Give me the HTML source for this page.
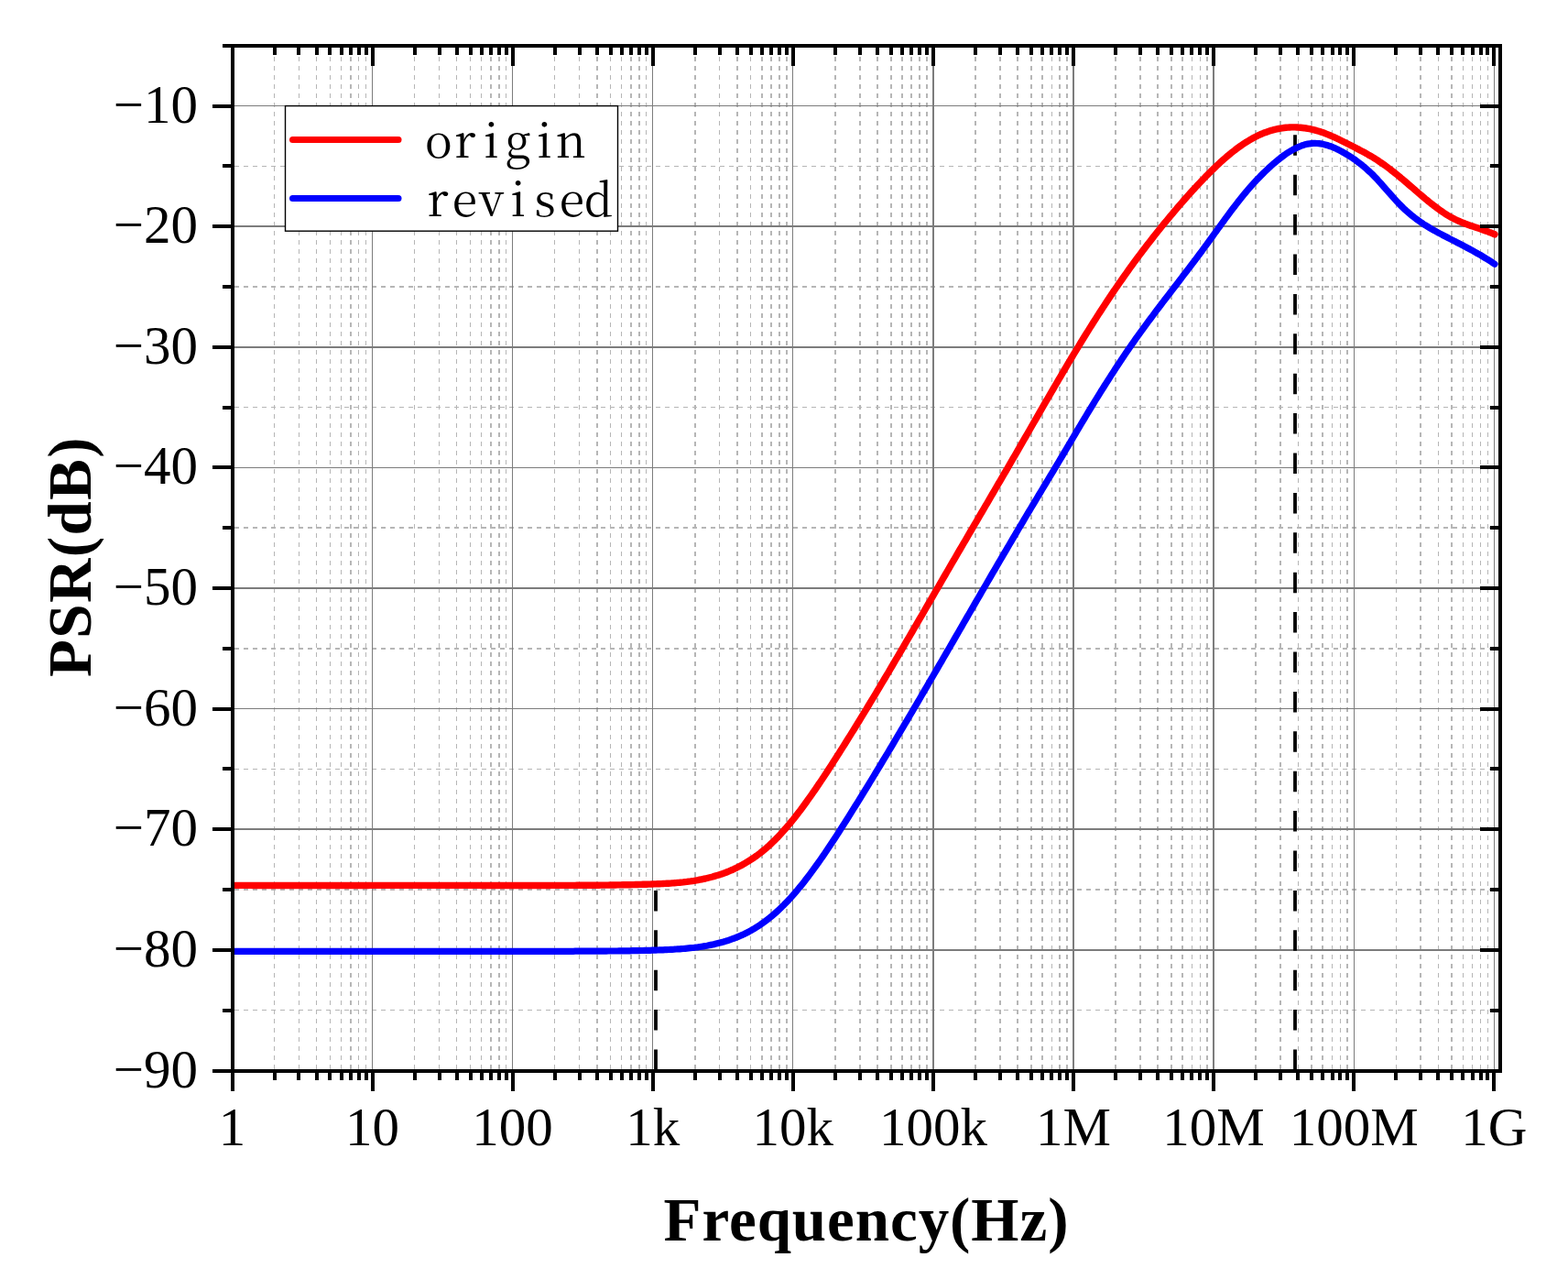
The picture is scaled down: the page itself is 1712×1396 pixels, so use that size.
<!DOCTYPE html>
<html><head><meta charset="utf-8"><style>
html,body{margin:0;padding:0;background:#fff;overflow:hidden;}
svg{display:block;}
</style></head><body>
<svg width="1712" height="1396" viewBox="0 0 1712 1396">
<rect width="1712" height="1396" fill="#fff"/>
<path d="M299.5 52V1167M326.4 52V1167M345.6 52V1167M360.4 52V1167M372.5 52V1167M382.8 52V1167M391.7 52V1167M399.5 52V1167M452.6 52V1167M479.5 52V1167M498.7 52V1167M513.5 52V1167M525.6 52V1167M535.9 52V1167M544.8 52V1167M552.6 52V1167M605.7 52V1167M632.6 52V1167M651.8 52V1167M666.6 52V1167M678.7 52V1167M689.0 52V1167M697.9 52V1167M705.7 52V1167M758.8 52V1167M785.7 52V1167M804.9 52V1167M819.7 52V1167M831.8 52V1167M842.1 52V1167M851.0 52V1167M858.8 52V1167M911.9 52V1167M938.8 52V1167M958.0 52V1167M972.8 52V1167M984.9 52V1167M995.2 52V1167M1004.1 52V1167M1011.9 52V1167M1065.0 52V1167M1091.9 52V1167M1111.1 52V1167M1125.9 52V1167M1138.0 52V1167M1148.3 52V1167M1157.2 52V1167M1165.0 52V1167M1218.1 52V1167M1245.0 52V1167M1264.2 52V1167M1279.0 52V1167M1291.1 52V1167M1301.4 52V1167M1310.3 52V1167M1318.1 52V1167M1371.2 52V1167M1398.1 52V1167M1417.3 52V1167M1432.1 52V1167M1444.2 52V1167M1454.5 52V1167M1463.4 52V1167M1471.2 52V1167M1524.3 52V1167M1551.2 52V1167M1570.4 52V1167M1585.2 52V1167M1597.3 52V1167M1607.6 52V1167M1616.5 52V1167M1624.3 52V1167M256 1102.7H1636M256 971.1H1636M256 839.4H1636M256 707.8H1636M256 576.2H1636M256 444.6H1636M256 312.9H1636M256 181.3H1636" stroke="#b6b6b6" stroke-width="1.5" stroke-dasharray="5 5" fill="none" shape-rendering="crispEdges"/>
<path d="M406.5 52V1167M559.6 52V1167M712.7 52V1167M865.8 52V1167M1018.9 52V1167M1172.0 52V1167M1325.1 52V1167M1478.2 52V1167M1631.3 52V1167" stroke="#7c7c7c" stroke-width="1.3" fill="none" shape-rendering="crispEdges"/>
<path d="M256 1036.9H1636M256 905.2H1636M256 773.6H1636M256 642.0H1636M256 510.4H1636M256 378.8H1636M256 247.1H1636M256 115.5H1636" stroke="#7c7c7c" stroke-width="1.45" fill="none" shape-rendering="crispEdges"/>
<path d="M716 1168V966M1414 1168V140" stroke="#000" stroke-width="3.8" stroke-dasharray="22.5 20.9" fill="none"/>
<defs><clipPath id="pc"><rect x="254" y="40" width="1390" height="1140"/></clipPath></defs>
<g clip-path="url(#pc)">
<path d="M254.0 966.4 L256.0 966.4 L258.0 966.4 L260.0 966.4 L262.0 966.4 L264.0 966.4 L266.0 966.4 L268.0 966.4 L270.0 966.4 L272.0 966.4 L274.0 966.4 L276.0 966.5 L278.0 966.5 L280.0 966.5 L282.0 966.5 L284.0 966.5 L286.0 966.5 L288.0 966.5 L290.0 966.5 L292.0 966.5 L294.0 966.5 L296.0 966.5 L298.0 966.5 L300.0 966.5 L302.0 966.5 L304.0 966.5 L306.0 966.5 L308.0 966.5 L310.0 966.5 L312.0 966.5 L314.0 966.5 L316.0 966.5 L318.0 966.5 L320.0 966.5 L322.0 966.5 L324.0 966.5 L326.0 966.5 L328.0 966.5 L330.0 966.5 L332.0 966.5 L334.0 966.5 L336.0 966.5 L338.0 966.5 L340.0 966.5 L342.0 966.5 L344.0 966.5 L346.0 966.5 L348.0 966.5 L350.0 966.5 L352.0 966.5 L354.0 966.5 L356.0 966.5 L358.0 966.5 L360.0 966.5 L362.0 966.5 L364.0 966.5 L366.0 966.5 L368.0 966.5 L370.0 966.5 L372.0 966.5 L374.0 966.5 L376.0 966.5 L378.0 966.5 L380.0 966.5 L382.0 966.5 L384.0 966.5 L386.0 966.5 L388.0 966.5 L390.0 966.5 L392.0 966.5 L394.0 966.5 L396.0 966.5 L398.0 966.5 L400.0 966.5 L402.0 966.5 L404.0 966.4 L406.0 966.4 L408.0 966.4 L410.0 966.4 L412.0 966.4 L414.0 966.4 L416.0 966.4 L418.0 966.4 L420.0 966.4 L422.0 966.4 L424.0 966.4 L426.0 966.4 L428.0 966.4 L430.0 966.4 L432.0 966.4 L434.0 966.4 L436.0 966.4 L438.0 966.4 L440.0 966.4 L442.0 966.4 L444.0 966.4 L446.0 966.4 L448.0 966.4 L450.0 966.4 L452.0 966.4 L454.0 966.4 L456.0 966.4 L458.0 966.4 L460.0 966.4 L462.0 966.4 L464.0 966.4 L466.0 966.4 L468.0 966.4 L470.0 966.4 L472.0 966.4 L474.0 966.4 L476.0 966.4 L478.0 966.4 L480.0 966.4 L482.0 966.4 L484.0 966.4 L486.0 966.4 L488.0 966.4 L490.0 966.4 L492.0 966.4 L494.0 966.4 L496.0 966.4 L498.0 966.4 L500.0 966.4 L502.0 966.4 L504.0 966.4 L506.0 966.4 L508.0 966.4 L510.0 966.4 L512.0 966.4 L514.0 966.4 L516.0 966.4 L518.0 966.4 L520.0 966.4 L522.0 966.4 L524.0 966.4 L526.0 966.5 L528.0 966.5 L530.0 966.5 L532.0 966.5 L534.0 966.5 L536.0 966.5 L538.0 966.5 L540.0 966.5 L542.0 966.5 L544.0 966.5 L546.0 966.5 L548.0 966.5 L550.0 966.5 L552.0 966.5 L554.0 966.5 L556.0 966.5 L558.0 966.5 L560.0 966.5 L562.0 966.5 L564.0 966.5 L566.0 966.5 L568.0 966.5 L570.0 966.5 L572.0 966.5 L574.0 966.5 L576.0 966.5 L578.0 966.5 L580.0 966.5 L582.0 966.5 L584.0 966.5 L586.0 966.5 L588.0 966.5 L590.0 966.5 L592.0 966.5 L594.0 966.5 L596.0 966.5 L598.0 966.5 L600.0 966.5 L602.0 966.4 L604.0 966.4 L606.0 966.4 L608.0 966.4 L610.0 966.4 L612.0 966.4 L614.0 966.4 L616.0 966.4 L618.0 966.4 L620.0 966.4 L622.0 966.4 L624.0 966.4 L626.0 966.4 L628.0 966.4 L630.0 966.3 L632.0 966.3 L634.0 966.3 L636.0 966.3 L638.0 966.3 L640.0 966.3 L642.0 966.3 L644.0 966.2 L646.0 966.2 L648.0 966.2 L650.0 966.2 L652.0 966.2 L654.0 966.2 L656.0 966.1 L658.0 966.1 L660.0 966.1 L662.0 966.1 L664.0 966.1 L666.0 966.0 L668.0 966.0 L670.0 966.0 L672.0 966.0 L674.0 965.9 L676.0 965.9 L678.0 965.9 L680.0 965.8 L682.0 965.8 L684.0 965.8 L686.0 965.7 L688.0 965.7 L690.0 965.6 L692.0 965.6 L694.0 965.5 L696.0 965.5 L698.0 965.4 L700.0 965.4 L702.0 965.3 L704.0 965.3 L706.0 965.2 L708.0 965.1 L710.0 965.1 L712.0 965.0 L714.0 964.9 L716.0 964.9 L718.0 964.8 L720.0 964.7 L722.0 964.6 L724.0 964.5 L726.0 964.4 L728.0 964.3 L730.0 964.2 L732.0 964.1 L734.0 963.9 L736.0 963.8 L738.0 963.6 L740.0 963.4 L742.0 963.3 L744.0 963.1 L746.0 962.9 L748.0 962.6 L750.0 962.4 L752.0 962.1 L754.0 961.9 L756.0 961.6 L758.0 961.3 L760.0 960.9 L762.0 960.6 L764.0 960.2 L766.0 959.8 L768.0 959.4 L770.0 959.0 L772.0 958.5 L774.0 958.0 L776.0 957.5 L778.0 957.0 L780.0 956.4 L782.0 955.8 L784.0 955.2 L786.0 954.6 L788.0 953.9 L790.0 953.2 L792.0 952.5 L794.0 951.7 L796.0 950.9 L798.0 950.0 L800.0 949.2 L802.0 948.2 L804.0 947.3 L806.0 946.3 L808.0 945.3 L810.0 944.2 L812.0 943.1 L814.0 941.9 L816.0 940.7 L818.0 939.5 L820.0 938.2 L822.0 936.9 L824.0 935.5 L826.0 934.1 L828.0 932.6 L830.0 931.1 L832.0 929.5 L834.0 927.9 L836.0 926.2 L838.0 924.4 L840.0 922.7 L842.0 920.8 L844.0 918.9 L846.0 917.0 L848.0 914.9 L850.0 912.9 L852.0 910.8 L854.0 908.6 L856.0 906.3 L858.0 904.1 L860.0 901.7 L862.0 899.4 L864.0 896.9 L866.0 894.5 L868.0 891.9 L870.0 889.4 L872.0 886.8 L874.0 884.2 L876.0 881.5 L878.0 878.8 L880.0 876.0 L882.0 873.2 L884.0 870.4 L886.0 867.6 L888.0 864.7 L890.0 861.8 L892.0 858.9 L894.0 855.9 L896.0 853.0 L898.0 850.0 L900.0 847.0 L902.0 843.9 L904.0 840.9 L906.0 837.8 L908.0 834.7 L910.0 831.6 L912.0 828.5 L914.0 825.3 L916.0 822.2 L918.0 819.1 L920.0 815.9 L922.0 812.7 L924.0 809.5 L926.0 806.3 L928.0 803.1 L930.0 799.9 L932.0 796.7 L934.0 793.5 L936.0 790.2 L938.0 787.0 L940.0 783.7 L942.0 780.4 L944.0 777.1 L946.0 773.8 L948.0 770.5 L950.0 767.2 L952.0 763.9 L954.0 760.6 L956.0 757.3 L958.0 753.9 L960.0 750.6 L962.0 747.2 L964.0 743.9 L966.0 740.5 L968.0 737.1 L970.0 733.8 L972.0 730.4 L974.0 727.0 L976.0 723.6 L978.0 720.2 L980.0 716.8 L982.0 713.4 L984.0 710.0 L986.0 706.6 L988.0 703.2 L990.0 699.7 L992.0 696.3 L994.0 692.9 L996.0 689.5 L998.0 686.0 L1000.0 682.6 L1002.0 679.2 L1004.0 675.7 L1006.0 672.3 L1008.0 668.8 L1010.0 665.4 L1012.0 661.9 L1014.0 658.5 L1016.0 655.1 L1018.0 651.6 L1020.0 648.2 L1022.0 644.7 L1024.0 641.3 L1026.0 637.8 L1028.0 634.4 L1030.0 630.9 L1032.0 627.5 L1034.0 624.0 L1036.0 620.6 L1038.0 617.2 L1040.0 613.7 L1042.0 610.3 L1044.0 606.9 L1046.0 603.4 L1048.0 600.0 L1050.0 596.6 L1052.0 593.2 L1054.0 589.8 L1056.0 586.3 L1058.0 582.9 L1060.0 579.5 L1062.0 576.1 L1064.0 572.7 L1066.0 569.3 L1068.0 565.8 L1070.0 562.4 L1072.0 559.0 L1074.0 555.6 L1076.0 552.2 L1078.0 548.8 L1080.0 545.3 L1082.0 541.9 L1084.0 538.5 L1086.0 535.1 L1088.0 531.7 L1090.0 528.2 L1092.0 524.8 L1094.0 521.4 L1096.0 517.9 L1098.0 514.5 L1100.0 511.1 L1102.0 507.6 L1104.0 504.2 L1106.0 500.7 L1108.0 497.3 L1110.0 493.8 L1112.0 490.3 L1114.0 486.9 L1116.0 483.4 L1118.0 479.9 L1120.0 476.5 L1122.0 473.0 L1124.0 469.5 L1126.0 466.0 L1128.0 462.5 L1130.0 459.1 L1132.0 455.6 L1134.0 452.1 L1136.0 448.6 L1138.0 445.2 L1140.0 441.7 L1142.0 438.2 L1144.0 434.8 L1146.0 431.3 L1148.0 427.9 L1150.0 424.5 L1152.0 421.0 L1154.0 417.6 L1156.0 414.2 L1158.0 410.8 L1160.0 407.4 L1162.0 404.0 L1164.0 400.6 L1166.0 397.2 L1168.0 393.9 L1170.0 390.5 L1172.0 387.2 L1174.0 383.9 L1176.0 380.6 L1178.0 377.3 L1180.0 374.0 L1182.0 370.8 L1184.0 367.5 L1186.0 364.3 L1188.0 361.1 L1190.0 357.9 L1192.0 354.7 L1194.0 351.5 L1196.0 348.4 L1198.0 345.3 L1200.0 342.1 L1202.0 339.1 L1204.0 336.0 L1206.0 332.9 L1208.0 329.9 L1210.0 326.9 L1212.0 323.9 L1214.0 320.9 L1216.0 317.9 L1218.0 315.0 L1220.0 312.1 L1222.0 309.2 L1224.0 306.3 L1226.0 303.5 L1228.0 300.6 L1230.0 297.8 L1232.0 295.0 L1234.0 292.2 L1236.0 289.5 L1238.0 286.7 L1240.0 284.0 L1242.0 281.3 L1244.0 278.6 L1246.0 276.0 L1248.0 273.3 L1250.0 270.7 L1252.0 268.1 L1254.0 265.5 L1256.0 262.9 L1258.0 260.4 L1260.0 257.8 L1262.0 255.3 L1264.0 252.8 L1266.0 250.3 L1268.0 247.8 L1270.0 245.3 L1272.0 242.9 L1274.0 240.5 L1276.0 238.1 L1278.0 235.7 L1280.0 233.3 L1282.0 230.9 L1284.0 228.6 L1286.0 226.2 L1288.0 223.9 L1290.0 221.6 L1292.0 219.3 L1294.0 217.0 L1296.0 214.8 L1298.0 212.6 L1300.0 210.3 L1302.0 208.1 L1304.0 205.9 L1306.0 203.8 L1308.0 201.6 L1310.0 199.5 L1312.0 197.4 L1314.0 195.3 L1316.0 193.2 L1318.0 191.2 L1320.0 189.1 L1322.0 187.2 L1324.0 185.2 L1326.0 183.3 L1328.0 181.3 L1330.0 179.5 L1332.0 177.6 L1334.0 175.8 L1336.0 174.0 L1338.0 172.3 L1340.0 170.5 L1342.0 168.9 L1344.0 167.2 L1346.0 165.6 L1348.0 164.1 L1350.0 162.5 L1352.0 161.0 L1354.0 159.6 L1356.0 158.2 L1358.0 156.8 L1360.0 155.5 L1362.0 154.3 L1364.0 153.1 L1366.0 151.9 L1368.0 150.8 L1370.0 149.7 L1372.0 148.7 L1374.0 147.7 L1376.0 146.8 L1378.0 146.0 L1380.0 145.1 L1382.0 144.4 L1384.0 143.7 L1386.0 143.0 L1388.0 142.4 L1390.0 141.9 L1392.0 141.3 L1394.0 140.9 L1396.0 140.5 L1398.0 140.1 L1400.0 139.8 L1402.0 139.5 L1404.0 139.3 L1406.0 139.1 L1408.0 139.0 L1410.0 138.9 L1412.0 138.9 L1414.0 138.9 L1416.0 139.0 L1418.0 139.1 L1420.0 139.3 L1422.0 139.5 L1424.0 139.7 L1426.0 140.0 L1428.0 140.3 L1430.0 140.7 L1432.0 141.2 L1434.0 141.6 L1436.0 142.1 L1438.0 142.7 L1440.0 143.3 L1442.0 143.9 L1444.0 144.6 L1446.0 145.3 L1448.0 146.1 L1450.0 146.9 L1452.0 147.7 L1454.0 148.6 L1456.0 149.4 L1458.0 150.3 L1460.0 151.3 L1462.0 152.2 L1464.0 153.2 L1466.0 154.2 L1468.0 155.2 L1470.0 156.2 L1472.0 157.2 L1474.0 158.2 L1476.0 159.3 L1478.0 160.3 L1480.0 161.3 L1482.0 162.4 L1484.0 163.4 L1486.0 164.5 L1488.0 165.5 L1490.0 166.6 L1492.0 167.7 L1494.0 168.9 L1496.0 170.0 L1498.0 171.2 L1500.0 172.4 L1502.0 173.7 L1504.0 174.9 L1506.0 176.3 L1508.0 177.6 L1510.0 179.0 L1512.0 180.4 L1514.0 181.9 L1516.0 183.4 L1518.0 184.9 L1520.0 186.5 L1522.0 188.0 L1524.0 189.6 L1526.0 191.2 L1528.0 192.9 L1530.0 194.6 L1532.0 196.2 L1534.0 197.9 L1536.0 199.6 L1538.0 201.4 L1540.0 203.1 L1542.0 204.8 L1544.0 206.5 L1546.0 208.3 L1548.0 210.0 L1550.0 211.7 L1552.0 213.4 L1554.0 215.1 L1556.0 216.8 L1558.0 218.4 L1560.0 220.1 L1562.0 221.7 L1564.0 223.2 L1566.0 224.8 L1568.0 226.3 L1570.0 227.8 L1572.0 229.2 L1574.0 230.6 L1576.0 232.0 L1578.0 233.3 L1580.0 234.6 L1582.0 235.8 L1584.0 236.9 L1586.0 238.0 L1588.0 239.1 L1590.0 240.0 L1592.0 241.0 L1594.0 241.8 L1596.0 242.7 L1598.0 243.5 L1600.0 244.3 L1602.0 245.0 L1604.0 245.7 L1606.0 246.4 L1608.0 247.1 L1610.0 247.8 L1612.0 248.4 L1614.0 249.1 L1616.0 249.8 L1618.0 250.5 L1620.0 251.2 L1622.0 251.9 L1624.0 252.6 L1626.0 253.4 L1628.0 254.1 L1630.0 255.0 L1632.0 255.8" stroke="#ff0000" stroke-width="7.4" fill="none" stroke-linejoin="round" stroke-linecap="round"/>
<path d="M254.0 1038.3 L256.0 1038.3 L258.0 1038.3 L260.0 1038.3 L262.0 1038.3 L264.0 1038.3 L266.0 1038.3 L268.0 1038.3 L270.0 1038.3 L272.0 1038.3 L274.0 1038.3 L276.0 1038.3 L278.0 1038.3 L280.0 1038.3 L282.0 1038.3 L284.0 1038.3 L286.0 1038.3 L288.0 1038.3 L290.0 1038.3 L292.0 1038.3 L294.0 1038.3 L296.0 1038.3 L298.0 1038.3 L300.0 1038.3 L302.0 1038.3 L304.0 1038.3 L306.0 1038.3 L308.0 1038.3 L310.0 1038.3 L312.0 1038.3 L314.0 1038.3 L316.0 1038.3 L318.0 1038.3 L320.0 1038.3 L322.0 1038.3 L324.0 1038.3 L326.0 1038.3 L328.0 1038.3 L330.0 1038.3 L332.0 1038.3 L334.0 1038.3 L336.0 1038.3 L338.0 1038.3 L340.0 1038.3 L342.0 1038.3 L344.0 1038.3 L346.0 1038.3 L348.0 1038.3 L350.0 1038.3 L352.0 1038.3 L354.0 1038.3 L356.0 1038.3 L358.0 1038.3 L360.0 1038.3 L362.0 1038.3 L364.0 1038.3 L366.0 1038.3 L368.0 1038.3 L370.0 1038.3 L372.0 1038.3 L374.0 1038.3 L376.0 1038.3 L378.0 1038.3 L380.0 1038.3 L382.0 1038.3 L384.0 1038.3 L386.0 1038.3 L388.0 1038.3 L390.0 1038.3 L392.0 1038.3 L394.0 1038.3 L396.0 1038.3 L398.0 1038.3 L400.0 1038.3 L402.0 1038.3 L404.0 1038.3 L406.0 1038.3 L408.0 1038.3 L410.0 1038.3 L412.0 1038.3 L414.0 1038.3 L416.0 1038.3 L418.0 1038.3 L420.0 1038.3 L422.0 1038.3 L424.0 1038.3 L426.0 1038.3 L428.0 1038.3 L430.0 1038.3 L432.0 1038.3 L434.0 1038.3 L436.0 1038.3 L438.0 1038.3 L440.0 1038.3 L442.0 1038.3 L444.0 1038.3 L446.0 1038.3 L448.0 1038.3 L450.0 1038.3 L452.0 1038.3 L454.0 1038.3 L456.0 1038.3 L458.0 1038.3 L460.0 1038.3 L462.0 1038.3 L464.0 1038.3 L466.0 1038.3 L468.0 1038.3 L470.0 1038.3 L472.0 1038.3 L474.0 1038.3 L476.0 1038.3 L478.0 1038.3 L480.0 1038.3 L482.0 1038.3 L484.0 1038.3 L486.0 1038.3 L488.0 1038.3 L490.0 1038.3 L492.0 1038.3 L494.0 1038.3 L496.0 1038.3 L498.0 1038.3 L500.0 1038.3 L502.0 1038.3 L504.0 1038.3 L506.0 1038.3 L508.0 1038.3 L510.0 1038.3 L512.0 1038.3 L514.0 1038.3 L516.0 1038.3 L518.0 1038.3 L520.0 1038.3 L522.0 1038.3 L524.0 1038.3 L526.0 1038.3 L528.0 1038.3 L530.0 1038.3 L532.0 1038.3 L534.0 1038.3 L536.0 1038.3 L538.0 1038.3 L540.0 1038.3 L542.0 1038.3 L544.0 1038.3 L546.0 1038.3 L548.0 1038.3 L550.0 1038.3 L552.0 1038.3 L554.0 1038.3 L556.0 1038.3 L558.0 1038.3 L560.0 1038.3 L562.0 1038.3 L564.0 1038.3 L566.0 1038.3 L568.0 1038.3 L570.0 1038.3 L572.0 1038.3 L574.0 1038.3 L576.0 1038.3 L578.0 1038.3 L580.0 1038.3 L582.0 1038.3 L584.0 1038.3 L586.0 1038.3 L588.0 1038.3 L590.0 1038.3 L592.0 1038.3 L594.0 1038.3 L596.0 1038.3 L598.0 1038.3 L600.0 1038.3 L602.0 1038.3 L604.0 1038.3 L606.0 1038.3 L608.0 1038.3 L610.0 1038.3 L612.0 1038.3 L614.0 1038.3 L616.0 1038.3 L618.0 1038.3 L620.0 1038.3 L622.0 1038.3 L624.0 1038.3 L626.0 1038.3 L628.0 1038.2 L630.0 1038.2 L632.0 1038.2 L634.0 1038.2 L636.0 1038.2 L638.0 1038.2 L640.0 1038.2 L642.0 1038.2 L644.0 1038.2 L646.0 1038.2 L648.0 1038.1 L650.0 1038.1 L652.0 1038.1 L654.0 1038.1 L656.0 1038.1 L658.0 1038.1 L660.0 1038.1 L662.0 1038.1 L664.0 1038.0 L666.0 1038.0 L668.0 1038.0 L670.0 1038.0 L672.0 1038.0 L674.0 1038.0 L676.0 1037.9 L678.0 1037.9 L680.0 1037.9 L682.0 1037.9 L684.0 1037.8 L686.0 1037.8 L688.0 1037.8 L690.0 1037.7 L692.0 1037.7 L694.0 1037.7 L696.0 1037.6 L698.0 1037.6 L700.0 1037.5 L702.0 1037.5 L704.0 1037.4 L706.0 1037.4 L708.0 1037.3 L710.0 1037.3 L712.0 1037.2 L714.0 1037.1 L716.0 1037.1 L718.0 1037.0 L720.0 1036.9 L722.0 1036.8 L724.0 1036.8 L726.0 1036.7 L728.0 1036.6 L730.0 1036.5 L732.0 1036.4 L734.0 1036.3 L736.0 1036.2 L738.0 1036.0 L740.0 1035.9 L742.0 1035.8 L744.0 1035.6 L746.0 1035.5 L748.0 1035.3 L750.0 1035.1 L752.0 1034.9 L754.0 1034.7 L756.0 1034.5 L758.0 1034.3 L760.0 1034.0 L762.0 1033.8 L764.0 1033.5 L766.0 1033.2 L768.0 1032.9 L770.0 1032.5 L772.0 1032.2 L774.0 1031.8 L776.0 1031.4 L778.0 1031.0 L780.0 1030.6 L782.0 1030.1 L784.0 1029.6 L786.0 1029.1 L788.0 1028.5 L790.0 1028.0 L792.0 1027.4 L794.0 1026.8 L796.0 1026.1 L798.0 1025.4 L800.0 1024.7 L802.0 1024.0 L804.0 1023.2 L806.0 1022.4 L808.0 1021.5 L810.0 1020.6 L812.0 1019.7 L814.0 1018.7 L816.0 1017.7 L818.0 1016.7 L820.0 1015.6 L822.0 1014.4 L824.0 1013.3 L826.0 1012.0 L828.0 1010.7 L830.0 1009.4 L832.0 1008.0 L834.0 1006.6 L836.0 1005.1 L838.0 1003.6 L840.0 1002.0 L842.0 1000.4 L844.0 998.7 L846.0 997.0 L848.0 995.2 L850.0 993.4 L852.0 991.5 L854.0 989.5 L856.0 987.6 L858.0 985.5 L860.0 983.4 L862.0 981.3 L864.0 979.1 L866.0 976.9 L868.0 974.6 L870.0 972.2 L872.0 969.8 L874.0 967.4 L876.0 964.9 L878.0 962.4 L880.0 959.8 L882.0 957.2 L884.0 954.6 L886.0 951.9 L888.0 949.2 L890.0 946.4 L892.0 943.6 L894.0 940.8 L896.0 938.0 L898.0 935.1 L900.0 932.2 L902.0 929.3 L904.0 926.3 L906.0 923.3 L908.0 920.3 L910.0 917.2 L912.0 914.2 L914.0 911.1 L916.0 908.0 L918.0 904.9 L920.0 901.8 L922.0 898.6 L924.0 895.5 L926.0 892.3 L928.0 889.1 L930.0 885.9 L932.0 882.7 L934.0 879.5 L936.0 876.3 L938.0 873.1 L940.0 869.8 L942.0 866.6 L944.0 863.3 L946.0 860.1 L948.0 856.8 L950.0 853.5 L952.0 850.3 L954.0 847.0 L956.0 843.7 L958.0 840.4 L960.0 837.1 L962.0 833.8 L964.0 830.4 L966.0 827.1 L968.0 823.8 L970.0 820.5 L972.0 817.1 L974.0 813.8 L976.0 810.4 L978.0 807.0 L980.0 803.7 L982.0 800.3 L984.0 796.9 L986.0 793.6 L988.0 790.2 L990.0 786.8 L992.0 783.4 L994.0 780.0 L996.0 776.6 L998.0 773.2 L1000.0 769.8 L1002.0 766.4 L1004.0 763.0 L1006.0 759.5 L1008.0 756.1 L1010.0 752.7 L1012.0 749.3 L1014.0 745.8 L1016.0 742.4 L1018.0 739.0 L1020.0 735.5 L1022.0 732.1 L1024.0 728.6 L1026.0 725.2 L1028.0 721.8 L1030.0 718.3 L1032.0 714.9 L1034.0 711.4 L1036.0 708.0 L1038.0 704.5 L1040.0 701.1 L1042.0 697.6 L1044.0 694.2 L1046.0 690.7 L1048.0 687.2 L1050.0 683.8 L1052.0 680.3 L1054.0 676.9 L1056.0 673.4 L1058.0 670.0 L1060.0 666.5 L1062.0 663.1 L1064.0 659.6 L1066.0 656.2 L1068.0 652.7 L1070.0 649.3 L1072.0 645.8 L1074.0 642.4 L1076.0 639.0 L1078.0 635.5 L1080.0 632.1 L1082.0 628.6 L1084.0 625.2 L1086.0 621.8 L1088.0 618.4 L1090.0 614.9 L1092.0 611.5 L1094.0 608.1 L1096.0 604.7 L1098.0 601.3 L1100.0 597.9 L1102.0 594.5 L1104.0 591.1 L1106.0 587.7 L1108.0 584.3 L1110.0 580.9 L1112.0 577.5 L1114.0 574.1 L1116.0 570.8 L1118.0 567.4 L1120.0 564.0 L1122.0 560.7 L1124.0 557.3 L1126.0 554.0 L1128.0 550.6 L1130.0 547.3 L1132.0 544.0 L1134.0 540.6 L1136.0 537.3 L1138.0 534.0 L1140.0 530.7 L1142.0 527.4 L1144.0 524.0 L1146.0 520.7 L1148.0 517.4 L1150.0 514.1 L1152.0 510.7 L1154.0 507.4 L1156.0 504.0 L1158.0 500.6 L1160.0 497.3 L1162.0 493.9 L1164.0 490.5 L1166.0 487.1 L1168.0 483.8 L1170.0 480.4 L1172.0 477.0 L1174.0 473.6 L1176.0 470.2 L1178.0 466.9 L1180.0 463.5 L1182.0 460.2 L1184.0 456.8 L1186.0 453.5 L1188.0 450.2 L1190.0 446.9 L1192.0 443.6 L1194.0 440.3 L1196.0 437.0 L1198.0 433.8 L1200.0 430.6 L1202.0 427.3 L1204.0 424.2 L1206.0 421.0 L1208.0 417.8 L1210.0 414.7 L1212.0 411.6 L1214.0 408.4 L1216.0 405.4 L1218.0 402.3 L1220.0 399.2 L1222.0 396.2 L1224.0 393.2 L1226.0 390.2 L1228.0 387.3 L1230.0 384.3 L1232.0 381.4 L1234.0 378.5 L1236.0 375.6 L1238.0 372.8 L1240.0 369.9 L1242.0 367.1 L1244.0 364.3 L1246.0 361.6 L1248.0 358.8 L1250.0 356.1 L1252.0 353.4 L1254.0 350.7 L1256.0 348.0 L1258.0 345.3 L1260.0 342.6 L1262.0 339.9 L1264.0 337.3 L1266.0 334.7 L1268.0 332.0 L1270.0 329.4 L1272.0 326.8 L1274.0 324.2 L1276.0 321.6 L1278.0 319.0 L1280.0 316.4 L1282.0 313.8 L1284.0 311.2 L1286.0 308.6 L1288.0 306.0 L1290.0 303.4 L1292.0 300.7 L1294.0 298.1 L1296.0 295.5 L1298.0 292.9 L1300.0 290.3 L1302.0 287.6 L1304.0 285.0 L1306.0 282.3 L1308.0 279.6 L1310.0 277.0 L1312.0 274.3 L1314.0 271.5 L1316.0 268.8 L1318.0 266.1 L1320.0 263.3 L1322.0 260.6 L1324.0 257.8 L1326.0 255.0 L1328.0 252.3 L1330.0 249.5 L1332.0 246.8 L1334.0 244.0 L1336.0 241.3 L1338.0 238.5 L1340.0 235.8 L1342.0 233.1 L1344.0 230.4 L1346.0 227.8 L1348.0 225.2 L1350.0 222.6 L1352.0 220.0 L1354.0 217.5 L1356.0 215.0 L1358.0 212.5 L1360.0 210.1 L1362.0 207.7 L1364.0 205.4 L1366.0 203.1 L1368.0 200.9 L1370.0 198.7 L1372.0 196.6 L1374.0 194.5 L1376.0 192.4 L1378.0 190.4 L1380.0 188.4 L1382.0 186.5 L1384.0 184.6 L1386.0 182.7 L1388.0 180.9 L1390.0 179.1 L1392.0 177.4 L1394.0 175.7 L1396.0 174.1 L1398.0 172.5 L1400.0 171.0 L1402.0 169.5 L1404.0 168.1 L1406.0 166.8 L1408.0 165.5 L1410.0 164.3 L1412.0 163.2 L1414.0 162.1 L1416.0 161.2 L1418.0 160.3 L1420.0 159.5 L1422.0 158.7 L1424.0 158.1 L1426.0 157.6 L1428.0 157.1 L1430.0 156.8 L1432.0 156.6 L1434.0 156.4 L1436.0 156.4 L1438.0 156.5 L1440.0 156.6 L1442.0 156.9 L1444.0 157.3 L1446.0 157.7 L1448.0 158.2 L1450.0 158.8 L1452.0 159.5 L1454.0 160.2 L1456.0 161.0 L1458.0 161.9 L1460.0 162.9 L1462.0 163.8 L1464.0 164.9 L1466.0 166.0 L1468.0 167.1 L1470.0 168.3 L1472.0 169.5 L1474.0 170.8 L1476.0 172.1 L1478.0 173.4 L1480.0 174.8 L1482.0 176.3 L1484.0 177.8 L1486.0 179.3 L1488.0 181.0 L1490.0 182.6 L1492.0 184.4 L1494.0 186.2 L1496.0 188.0 L1498.0 189.9 L1500.0 191.9 L1502.0 194.0 L1504.0 196.1 L1506.0 198.3 L1508.0 200.5 L1510.0 202.8 L1512.0 205.1 L1514.0 207.3 L1516.0 209.6 L1518.0 211.9 L1520.0 214.2 L1522.0 216.4 L1524.0 218.6 L1526.0 220.8 L1528.0 222.9 L1530.0 224.9 L1532.0 226.9 L1534.0 228.8 L1536.0 230.6 L1538.0 232.3 L1540.0 234.0 L1542.0 235.7 L1544.0 237.2 L1546.0 238.8 L1548.0 240.2 L1550.0 241.7 L1552.0 243.0 L1554.0 244.4 L1556.0 245.7 L1558.0 246.9 L1560.0 248.1 L1562.0 249.3 L1564.0 250.5 L1566.0 251.6 L1568.0 252.7 L1570.0 253.8 L1572.0 254.9 L1574.0 255.9 L1576.0 257.0 L1578.0 258.0 L1580.0 259.0 L1582.0 260.1 L1584.0 261.1 L1586.0 262.1 L1588.0 263.1 L1590.0 264.2 L1592.0 265.2 L1594.0 266.2 L1596.0 267.3 L1598.0 268.3 L1600.0 269.4 L1602.0 270.5 L1604.0 271.5 L1606.0 272.6 L1608.0 273.7 L1610.0 274.8 L1612.0 276.0 L1614.0 277.1 L1616.0 278.2 L1618.0 279.4 L1620.0 280.6 L1622.0 281.8 L1624.0 283.0 L1626.0 284.3 L1628.0 285.6 L1630.0 286.9 L1632.0 288.2" stroke="#0000ff" stroke-width="7.2" fill="none" stroke-linejoin="round" stroke-linecap="round"/>
</g>
<path d="M299.5 1171v8M299.5 52v8M326.4 1171v8M326.4 52v8M345.6 1171v8M345.6 52v8M360.4 1171v8M360.4 52v8M372.5 1171v8M372.5 52v8M382.8 1171v8M382.8 52v8M391.7 1171v8M391.7 52v8M399.5 1171v8M399.5 52v8M406.5 1171v20M406.5 52v20M452.6 1171v8M452.6 52v8M479.5 1171v8M479.5 52v8M498.7 1171v8M498.7 52v8M513.5 1171v8M513.5 52v8M525.6 1171v8M525.6 52v8M535.9 1171v8M535.9 52v8M544.8 1171v8M544.8 52v8M552.6 1171v8M552.6 52v8M559.6 1171v20M559.6 52v20M605.7 1171v8M605.7 52v8M632.6 1171v8M632.6 52v8M651.8 1171v8M651.8 52v8M666.6 1171v8M666.6 52v8M678.7 1171v8M678.7 52v8M689.0 1171v8M689.0 52v8M697.9 1171v8M697.9 52v8M705.7 1171v8M705.7 52v8M712.7 1171v20M712.7 52v20M758.8 1171v8M758.8 52v8M785.7 1171v8M785.7 52v8M804.9 1171v8M804.9 52v8M819.7 1171v8M819.7 52v8M831.8 1171v8M831.8 52v8M842.1 1171v8M842.1 52v8M851.0 1171v8M851.0 52v8M858.8 1171v8M858.8 52v8M865.8 1171v20M865.8 52v20M911.9 1171v8M911.9 52v8M938.8 1171v8M938.8 52v8M958.0 1171v8M958.0 52v8M972.8 1171v8M972.8 52v8M984.9 1171v8M984.9 52v8M995.2 1171v8M995.2 52v8M1004.1 1171v8M1004.1 52v8M1011.9 1171v8M1011.9 52v8M1018.9 1171v20M1018.9 52v20M1065.0 1171v8M1065.0 52v8M1091.9 1171v8M1091.9 52v8M1111.1 1171v8M1111.1 52v8M1125.9 1171v8M1125.9 52v8M1138.0 1171v8M1138.0 52v8M1148.3 1171v8M1148.3 52v8M1157.2 1171v8M1157.2 52v8M1165.0 1171v8M1165.0 52v8M1172.0 1171v20M1172.0 52v20M1218.1 1171v8M1218.1 52v8M1245.0 1171v8M1245.0 52v8M1264.2 1171v8M1264.2 52v8M1279.0 1171v8M1279.0 52v8M1291.1 1171v8M1291.1 52v8M1301.4 1171v8M1301.4 52v8M1310.3 1171v8M1310.3 52v8M1318.1 1171v8M1318.1 52v8M1325.1 1171v20M1325.1 52v20M1371.2 1171v8M1371.2 52v8M1398.1 1171v8M1398.1 52v8M1417.3 1171v8M1417.3 52v8M1432.1 1171v8M1432.1 52v8M1444.2 1171v8M1444.2 52v8M1454.5 1171v8M1454.5 52v8M1463.4 1171v8M1463.4 52v8M1471.2 1171v8M1471.2 52v8M1478.2 1171v20M1478.2 52v20M1524.3 1171v8M1524.3 52v8M1551.2 1171v8M1551.2 52v8M1570.4 1171v8M1570.4 52v8M1585.2 1171v8M1585.2 52v8M1597.3 1171v8M1597.3 52v8M1607.6 1171v8M1607.6 52v8M1616.5 1171v8M1616.5 52v8M1624.3 1171v8M1624.3 52v8M1631.3 1171v20M1631.3 52v20M252 1168.5h-20M1636 1168.5h-20M252 1036.9h-20M1636 1036.9h-20M252 905.2h-20M1636 905.2h-20M252 773.6h-20M1636 773.6h-20M252 642.0h-20M1636 642.0h-20M252 510.4h-20M1636 510.4h-20M252 378.8h-20M1636 378.8h-20M252 247.1h-20M1636 247.1h-20M252 115.5h-20M1636 115.5h-20M252 1102.7h-8.8M1636 1102.7h-8.8M252 971.1h-8.8M1636 971.1h-8.8M252 839.4h-8.8M1636 839.4h-8.8M252 707.8h-8.8M1636 707.8h-8.8M252 576.2h-8.8M1636 576.2h-8.8M252 444.6h-8.8M1636 444.6h-8.8M252 312.9h-8.8M1636 312.9h-8.8M252 181.3h-8.8M1636 181.3h-8.8" stroke="#000" stroke-width="4" fill="none" shape-rendering="crispEdges"/>
<path d="M243 50H1640M254 48V1191M1638 48V1171M232 1169H1640" stroke="#000" stroke-width="4" fill="none" shape-rendering="crispEdges"/>
<rect x="311.5" y="115.6" width="363" height="136.6" fill="#fff" stroke="#000" stroke-width="1.4"/>
<path d="M319.5 152.4H435" stroke="#ff0000" stroke-width="7" stroke-linecap="round"/>
<path d="M319.5 216.4H435" stroke="#0000ff" stroke-width="7" stroke-linecap="round"/>
<text x="478.8 507.7 536.6 565.6 594.5 623.4" y="172" text-anchor="middle" font-family="Noto Serif CJK SC, Liberation Serif, serif" font-size="50">origin</text>
<text x="478.1 507.4 536.6 565.9 595.1 624.4 653.6" y="235.7" text-anchor="middle" font-family="Noto Serif CJK SC, Liberation Serif, serif" font-size="50">revised</text>
<g font-family="Liberation Serif, serif" font-size="59" fill="#000"><text x="216" y="1186.5" text-anchor="end">&#8722;90</text><text x="216" y="1054.9" text-anchor="end">&#8722;80</text><text x="216" y="923.2" text-anchor="end">&#8722;70</text><text x="216" y="791.6" text-anchor="end">&#8722;60</text><text x="216" y="660.0" text-anchor="end">&#8722;50</text><text x="216" y="528.4" text-anchor="end">&#8722;40</text><text x="216" y="396.8" text-anchor="end">&#8722;30</text><text x="216" y="265.1" text-anchor="end">&#8722;20</text><text x="216" y="133.5" text-anchor="end">&#8722;10</text><text x="253.4" y="1250" text-anchor="middle">1</text><text x="406.5" y="1250" text-anchor="middle">10</text><text x="559.6" y="1250" text-anchor="middle">100</text><text x="712.7" y="1250" text-anchor="middle">1k</text><text x="865.8" y="1250" text-anchor="middle">10k</text><text x="1018.9" y="1250" text-anchor="middle">100k</text><text x="1172.0" y="1250" text-anchor="middle">1M</text><text x="1325.1" y="1250" text-anchor="middle">10M</text><text x="1478.2" y="1250" text-anchor="middle">100M</text><text x="1631.3" y="1250" text-anchor="middle">1G</text></g>
<text x="946" y="1354" text-anchor="middle" font-family="Liberation Serif, serif" font-weight="bold" font-size="67" letter-spacing="0.95">Frequency(Hz)</text>
<text transform="translate(99 607.5) rotate(-90)" text-anchor="middle" font-family="Liberation Serif, serif" font-weight="bold" font-size="67" letter-spacing="1.4">PSR(dB)</text>
</svg>
</body></html>
